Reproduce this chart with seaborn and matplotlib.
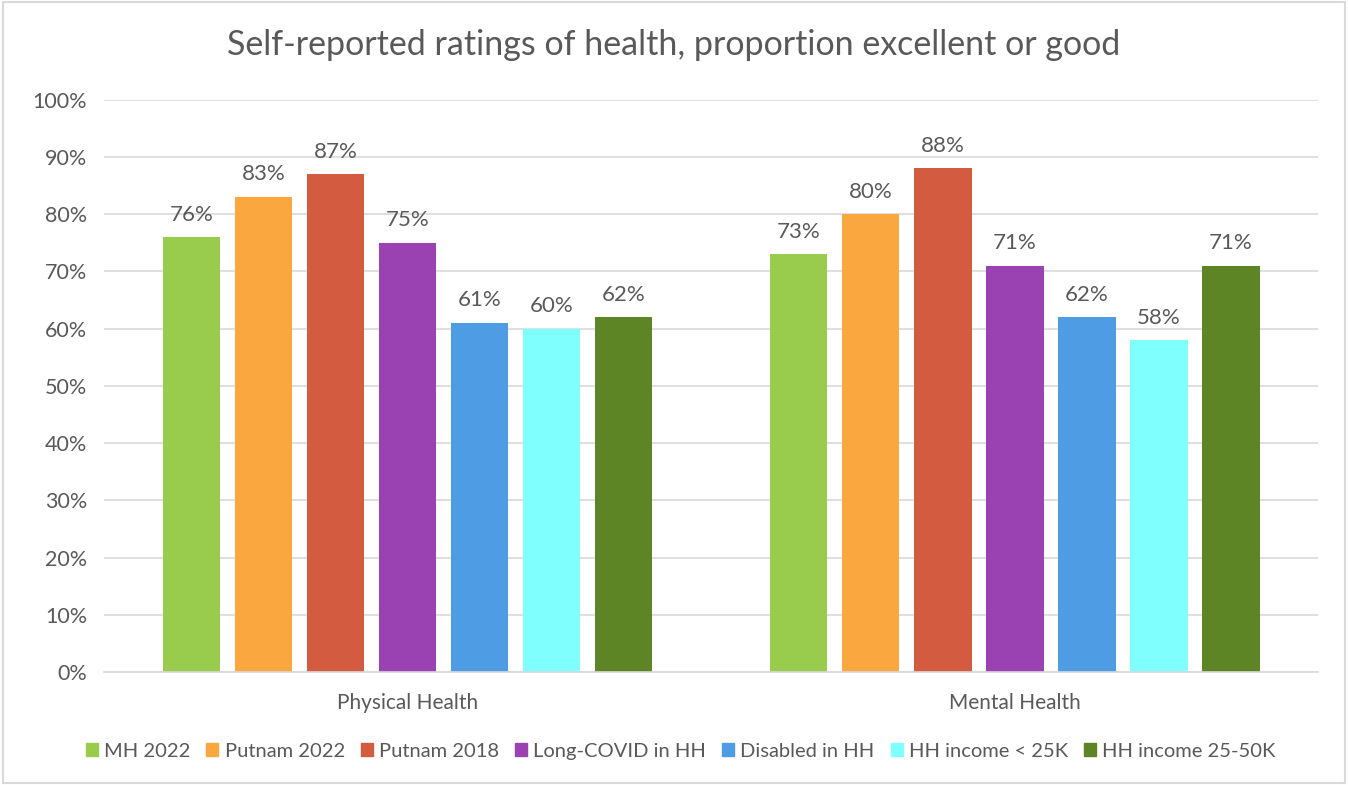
import numpy as np
import pandas as pd
import seaborn as sns
import matplotlib.pyplot as plt
from matplotlib.patches import Rectangle

categories = ["Physical Health", "Mental Health"]
series = ["MH 2022", "Putnam 2022", "Putnam 2018", "Long-COVID in HH",
          "Disabled in HH", "HH income < 25K", "HH income 25-50K"]
physical = [76, 83, 87, 75, 61, 60, 62]
mental = [73, 80, 88, 71, 62, 58, 71]
colors = ["#99CC4C", "#F9A73E", "#D35B40", "#9A42B2", "#4E9CE4", "#80FFFF", "#5E8525"]

rows = []
for s, p, m in zip(series, physical, mental):
    rows.append({"cat": categories[0], "series": s, "val": p / 100})
    rows.append({"cat": categories[1], "series": s, "val": m / 100})
df = pd.DataFrame(rows)

sns.set_theme(style="white")
plt.rcParams["font.family"] = ["Lato", "DejaVu Sans"]
txt = "#595959"

fig = plt.figure(figsize=(13.48, 7.85), dpi=100)
ax = fig.add_axes([0.077, 0.144, 0.901, 0.729])

sns.barplot(data=df, x="cat", y="val", hue="series", order=categories,
            hue_order=series, palette=colors, width=0.83, gap=0.2,
            saturation=1, linewidth=0, ax=ax, legend=False)

for cont in ax.containers:
    ax.bar_label(cont, labels=[f"{v*100:.0f}%" for v in cont.datavalues],
                 padding=9, fontsize=16, color=txt)

ax.set_ylim(0, 1)
ax.set_xlim(-0.5, 1.5)
ax.set_yticks(np.arange(0, 1.01, 0.1))
ax.set_yticklabels([f"{int(t*100)}%" for t in np.arange(0, 1.01, 0.1).round(2)])
ax.yaxis.grid(True, color="#D9D9D9", linewidth=1.2)
ax.set_axisbelow(True)
for sp in ["top", "right", "left"]:
    ax.spines[sp].set_visible(False)
ax.spines["bottom"].set_color("#D9D9D9")
ax.spines["bottom"].set_linewidth(1.2)
ax.tick_params(axis="y", length=0, labelsize=15.5, colors=txt, pad=12)
ax.tick_params(axis="x", length=0, labelsize=15, colors=txt, pad=15)
ax.set_xlabel("")
ax.set_ylabel("")

fig.suptitle("Self-reported ratings of health, proportion excellent or good",
             y=0.963, fontsize=24.5, color=txt)

handles = [Rectangle((0, 0), 1, 1, color=c) for c in colors]
fig.legend(handles, series, loc="center", bbox_to_anchor=(0.505, 0.043),
           ncol=7, frameon=False, fontsize=14.5, labelcolor=txt,
           handlelength=0.6, handleheight=0.6, handletextpad=0.3,
           columnspacing=0.8)

fig.patches.append(Rectangle((0.002, 0.002), 0.996, 0.996, transform=fig.transFigure,
                             fill=False, edgecolor="#D9D9D9", linewidth=1.5))

fig.savefig("out.png", dpi=100, facecolor="white")
